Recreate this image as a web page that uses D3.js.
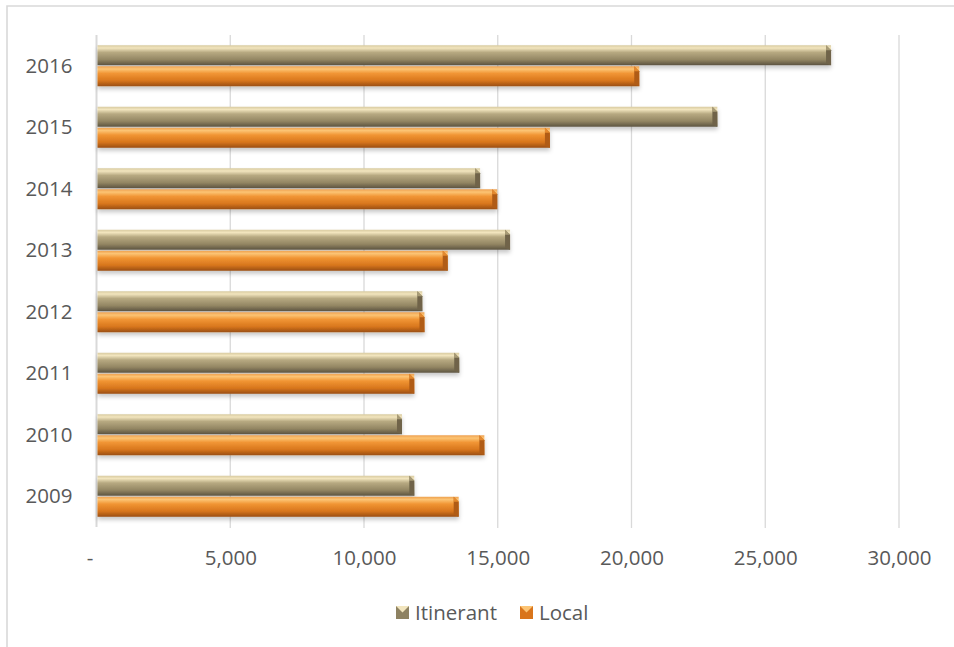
<!DOCTYPE html>
<html>
<head>
<meta charset="utf-8">
<script src="https://cdn.jsdelivr.net/npm/d3@7"></script>
<style>
  html, body { margin: 0; padding: 0; background: #fff; }
  svg { display: block; }
  text { font-family: "Open Sans", "Noto Sans", sans-serif; fill: #595959; }
</style>
</head>
<body>
<svg id="chart" width="954" height="647"></svg>
<script>
// ---- data ----
const years = ["2009", "2010", "2011", "2012", "2013", "2014", "2015", "2016"];
const itinerant = [11880, 11420, 13560, 12180, 15460, 14340, 23210, 27460];
const local = [13540, 14500, 11880, 12260, 13130, 14980, 16950, 20290];
const seriesNames = ["Itinerant", "Local"];
const xTicks = [0, 5000, 10000, 15000, 20000, 25000, 30000];

// ---- setup ----
const svg = d3.select("#chart");
const W = 954, H = 647;
const plot = { left: 96.5, right: 899, top: 35, bottom: 527 };

const x = d3.scaleLinear().domain([0, 30000]).range([plot.left, plot.right]);
const y = d3.scaleBand().domain(years.slice().reverse()).range([plot.top, plot.bottom]).padding(0);
const sub = d3.scaleBand().domain(seriesNames).range([0, y.bandwidth()])
  .paddingInner(0.05).paddingOuter(0.4875);

const palettes = {
  Itinerant: { stops: ["#d8caa0", "#f2e5be", "#b7a981", "#938663", "#5c5340"], end: "#6f6449", legend: "#8e8262" },
  Local:     { stops: ["#eea04e", "#fcc474", "#f19534", "#d8761d", "#9a4e12"], end: "#b05c16", legend: "#d9751c" }
};

const defs = svg.append("defs");
seriesNames.forEach(name => {
  const g = defs.append("linearGradient").attr("id", "grad-" + name)
    .attr("x1", 0).attr("y1", 0).attr("x2", 0).attr("y2", 1);
  const offs = [0, 0.14, 0.36, 0.72, 1];
  palettes[name].stops.forEach((c, i) => g.append("stop").attr("offset", offs[i]).attr("stop-color", c));
});
const f = defs.append("filter").attr("id", "shadow").attr("x", "-5%").attr("y", "-40%").attr("width", "110%").attr("height", "200%");
f.append("feDropShadow").attr("dx", 0).attr("dy", 3).attr("stdDeviation", 2.2)
  .attr("flood-color", "#000").attr("flood-opacity", 0.22);

// frame (clipped chart area border)
svg.append("path")
  .attr("d", `M7,${H + 5} L7,6 L${W + 5},6`)
  .attr("fill", "none").attr("stroke", "#d9d9d9").attr("stroke-width", 1.6);

// gridlines
svg.append("g").selectAll("line").data(xTicks.filter(d => d > 0)).join("line")
  .attr("x1", d => x(d)).attr("x2", d => x(d))
  .attr("y1", plot.top).attr("y2", plot.bottom + 1)
  .attr("stroke", "#d9d9d9").attr("stroke-width", 1.3);

// y axis line
svg.append("line")
  .attr("x1", x(0)).attr("x2", x(0)).attr("y1", plot.top).attr("y2", plot.bottom)
  .attr("stroke", "#d9d9d9").attr("stroke-width", 2);

// bars
const rows = years.map((yr, i) => ({ year: yr, Itinerant: itinerant[i], Local: local[i] }));
const barG = svg.append("g");
rows.forEach(r => {
  seriesNames.forEach(name => {
    const x0 = x(0) + 1, x1 = x(r[name]);
    const y0 = y(r.year) + sub(name), h = sub.bandwidth(), y1 = y0 + h;
    const b = 5;
    const g = barG.append("g").attr("filter", "url(#shadow)");
    g.append("rect")
      .attr("x", x0).attr("y", y0).attr("width", x1 - x0).attr("height", h)
      .attr("fill", `url(#grad-${name})`);
    // bevelled right end
    g.append("path")
      .attr("d", `M${x1 - b},${y0} L${x1},${y0 + b} L${x1},${y1} L${x1 - b},${y1 - 2} Z`)
      .attr("fill", palettes[name].end);
    g.append("path")
      .attr("d", `M${x1 - b},${y0} L${x1},${y0 + b} L${x1 - b},${y0 + b} Z`)
      .attr("fill", palettes[name].stops[2]).attr("opacity", 0.8);
  });
});

// x axis labels
const xAxis = d3.axisBottom(x).tickValues(xTicks).tickSize(0)
  .tickFormat(d => d === 0 ? "-" : d3.format(",")(d));
const xg = svg.append("g").attr("transform", `translate(0,${plot.bottom})`).call(xAxis);
xg.select(".domain").remove();
xg.selectAll("text")
  .attr("y", 31).attr("dy", "0.35em")
  .attr("font-size", "20.5px").attr("fill", "#595959")
  .attr("font-family", '"Open Sans", sans-serif')
  .attr("dx", d => d === 0 ? -7 : 0);

// y axis labels
const yAxis = d3.axisLeft(y).tickSize(0);
const yg = svg.append("g").attr("transform", `translate(${plot.left - 24},0)`).call(yAxis);
yg.select(".domain").remove();
yg.selectAll("text")
  .attr("x", 0).attr("dy", "0.35em")
  .attr("font-size", "20.5px").attr("fill", "#595959")
  .attr("font-family", '"Open Sans", sans-serif');

// legend
const legendItems = [
  { name: "Itinerant", sx: 396, tx: 415 },
  { name: "Local", sx: 520, tx: 539 }
];
const lg = svg.append("g");
legendItems.forEach(it => {
  lg.append("rect").attr("x", it.sx).attr("y", 606).attr("width", 13).attr("height", 13)
    .attr("fill", palettes[it.name].legend);
  lg.append("path")
    .attr("d", `M${it.sx},606 L${it.sx + 13},606 L${it.sx + 6.5},612.5 Z`)
    .attr("fill", palettes[it.name].stops[1]);
  lg.append("text").attr("x", it.tx).attr("y", 612.5).attr("dy", "0.35em")
    .attr("font-size", "20.5px").text(it.name);
});
</script>
</body>
</html>
